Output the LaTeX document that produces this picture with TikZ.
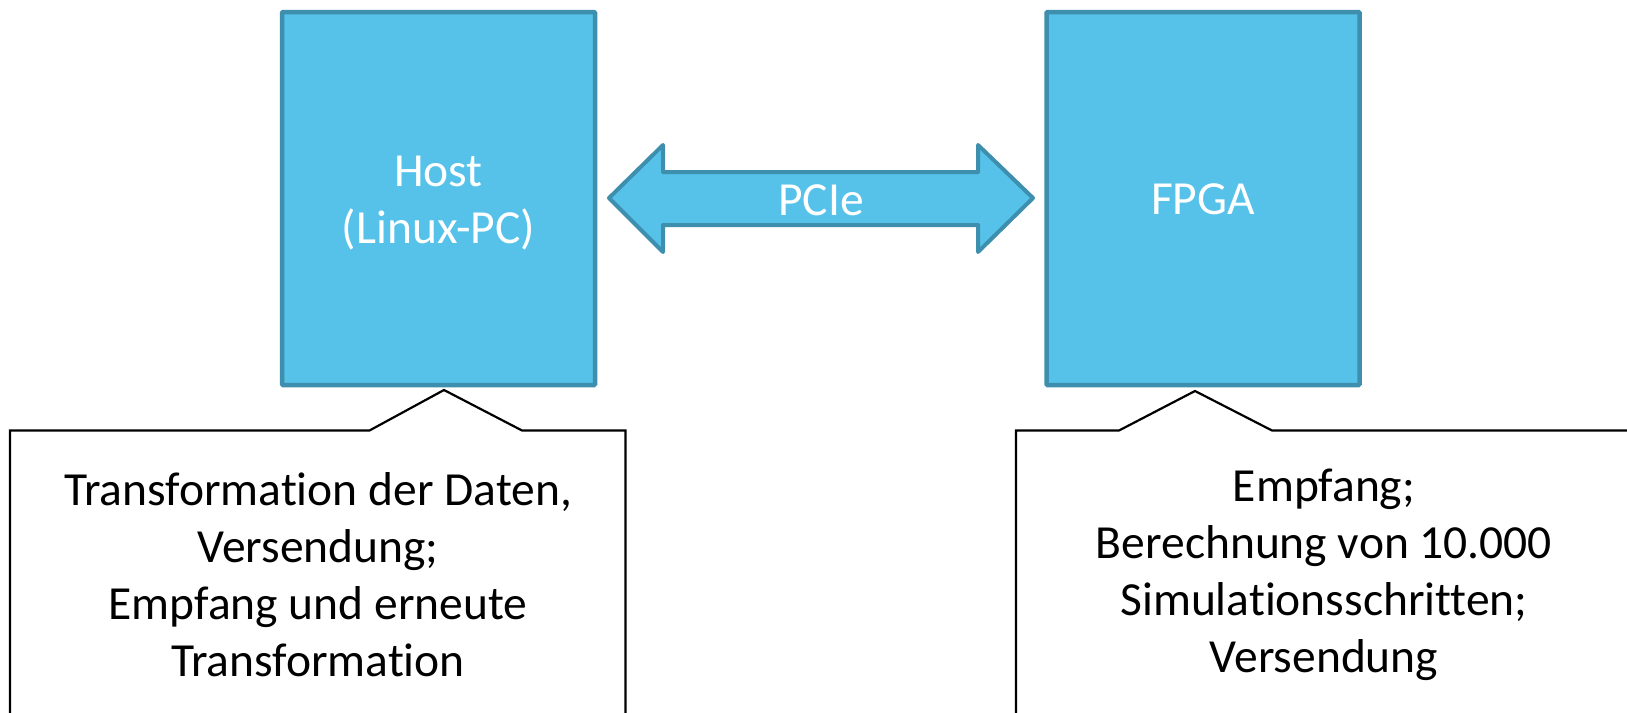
\documentclass[tikz,border=0pt]{standalone}
\usepackage{fontspec}
\setmainfont{Carlito}[Ligatures={NoCommon}]
\definecolor{boxfill}{RGB}{86,194,234}
\definecolor{boxline}{RGB}{62,142,174}
\begin{document}
\begin{tikzpicture}[x=1pt,y=-1pt,
  bluebox/.style={draw=boxline,fill=boxfill,line width=4.5pt,rounded corners=1pt,
    minimum width=313pt,minimum height=373pt},
  boxtext/.style={text=white,align=center,font=\fontsize{47.5}{57}\selectfont},
  calltext/.style={align=center,text=black,font=\fontsize{47.5}{57}\selectfont},
  callout/.style={draw=black,fill=white,line width=2.2pt,line join=miter},
  arrowshape/.style={draw=boxline,fill=boxfill,line width=4pt,line join=round}]
\useasboundingbox (0,0) rectangle (1627,712);
\node[bluebox] (host) at (438.5,198.5) {};
\node[bluebox] (fpga) at (1203,198.5) {};
\node[boxtext] (hosttext) at ([yshift=-5pt]host.center) {Host\\(Linux-PC)};
\node[boxtext] (fpgatext) at ([yshift=-1pt]fpga.center) {FPGA};
% double arrow
\coordinate (ltip) at (609,198);
\coordinate (rtip) at (1033,198);
\draw[arrowshape] (ltip) -- (663,145) -- (663,172) -- (978,172) -- (978,145) -- (rtip)
  -- (978,252) -- (978,225) -- (663,225) -- (663,252) -- cycle;
\node[boxtext] (pcie) at (821,200) {PCIe};
% callouts
\coordinate (hapex) at (444,390);
\coordinate (fapex) at (1195,391);
\draw[callout] (10,720) -- (10,430.5) -- (369.5,430.5) -- (hapex) -- (522,430.5) -- (625.5,430.5) -- (625.5,720);
\draw[callout] (1016,720) -- (1016,430.5) -- (1119,430.5) -- (fapex) -- (1272,430.5) -- (1640,430.5);
\node[calltext] (htext) at (318,575) {Transformation der Daten,\\Versendung;\\Empfang und erneute\\Transformation};
\node[calltext] (ftext) at (1324,575) {Empfang;\\Berechnung von 10.000\\Simulationsschritten;\\Versendung};
\end{tikzpicture}
\end{document}
